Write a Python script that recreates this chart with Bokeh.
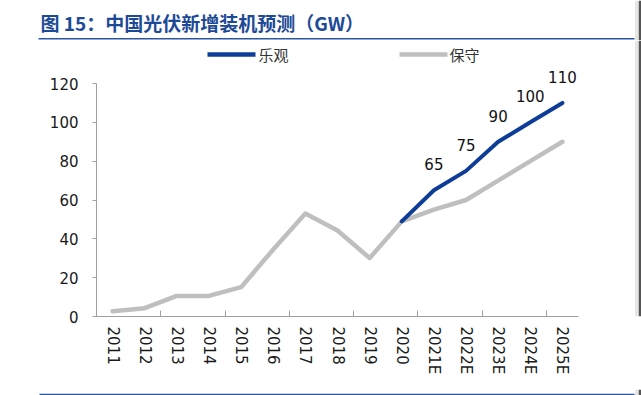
import math
from bokeh.plotting import figure
from bokeh.layouts import column
from bokeh.models import Range1d, FixedTicker, LabelSet, Label, Span, ColumnDataSource
from bokeh.core.properties import value
from bokeh.embed import file_html
from bokeh.resources import INLINE

# ---- data ----
years = ["2011", "2012", "2013", "2014", "2015", "2016", "2017", "2018", "2019", "2020",
         "2021E", "2022E", "2023E", "2024E", "2025E"]
conservative = [2.7, 4.3, 10.6, 10.6, 15.1, 34.5, 53.0, 44.3, 30.1, 49.0,
                55.0, 60.0, 70.0, 80.0, 90.0]
optimistic_years = ["2020", "2021E", "2022E", "2023E", "2024E", "2025E"]
optimistic = [49.0, 65.0, 75.0, 90.0, 100.0, 110.0]
label_years = ["2021E", "2022E", "2023E", "2024E", "2025E"]
label_values = [65, 75, 90, 100, 110]
y_ticks = [0, 20, 40, 60, 80, 100, 120]
title_text = "图 15：中国光伏新增装机预测（GW）"
legend_names = ["乐观", "保守"]

BLUE = "#0D3D96"
GRAY = "#BFBFBF"
TITLE_BLUE = "#1D4A96"
RULE = "#2A56A3"
AXIS = "#A0A0A0"
NUM_FONT = "DejaVu Sans"
CJK = "Noto Sans CJK SC"

W = 641
HEAD_H, MAIN_H, FOOT_H = 40, 346, 9
FRAME_L = 96          # frame left edge (px)
FRAME_W = 482         # px spanned by the 15 categories
AXIS_Y = 276          # x-axis position inside main figure (px from top)
PX_PER_20 = 38.833    # px per 20 GW

pos = {y: i + 0.5 for i, y in enumerate(years)}
px_x = FRAME_W / len(years)
px_y = PX_PER_20 / 20
x_end = (W - FRAME_L) / px_x
y_end = AXIS_Y / px_y


def edge_band(fig, to_data=lambda v: v):
    fig.add_layout(Span(location=to_data(636.5), dimension="height",
                        line_color="#E6E6E6", line_width=4))
    fig.add_layout(Span(location=to_data(639.8), dimension="height",
                        line_color="#555555", line_width=3))


def blank(h):
    f = figure(width=W, height=h, x_range=Range1d(0, W), y_range=Range1d(h, 0),
               output_backend="svg", toolbar_location=None,
               x_axis_location=None, y_axis_location=None,
               min_border=0, min_border_left=0, min_border_right=0,
               min_border_top=0, min_border_bottom=0)
    f.grid.visible = False
    f.outline_line_color = None
    f.frame_align = False
    return f


# ---- header: title and rule ----
head = blank(HEAD_H)
head.add_layout(Label(x=40, y=22, text=title_text, text_font=CJK,
                      text_font_style="bold", text_font_size="19px", text_color=TITLE_BLUE,
                      text_baseline="middle", text_align="left"))
head.segment(x0=[38], y0=[38.3], x1=[634], y1=[38.3], line_color=RULE, line_width=1.5)
edge_band(head)

# ---- main chart ----
p = figure(width=W, height=MAIN_H, x_range=Range1d(0, x_end), y_range=Range1d(0, y_end),
           output_backend="svg", toolbar_location=None,
           min_border_left=FRAME_L, min_border_right=0, min_border_top=0,
           min_border_bottom=MAIN_H - AXIS_Y)
p.grid.visible = False
p.outline_line_color = None
p.frame_align = False

p.xaxis.bounds = (0, len(years))
p.xaxis.ticker = FixedTicker(ticks=[pos[y] for y in years],
                             minor_ticks=list(range(2, len(years), 2)))
p.xaxis.major_label_overrides = {pos[y]: y for y in years}
p.xaxis.major_label_orientation = -math.pi / 2
p.xaxis.major_tick_out = 0
p.xaxis.major_tick_in = 0
p.xaxis.minor_tick_in = 6
p.xaxis.minor_tick_out = 0
p.xaxis.minor_tick_line_color = AXIS
p.xaxis.axis_line_color = AXIS
p.xaxis.major_label_standoff = 10
p.xaxis.major_label_text_font = NUM_FONT
p.xaxis.major_label_text_font_size = "15px"
p.xaxis.major_label_text_color = "#1A1A1A"

p.yaxis.bounds = (0, 120)
p.yaxis.ticker = FixedTicker(ticks=y_ticks)
p.yaxis.minor_tick_line_color = None
p.yaxis.major_tick_out = 4
p.yaxis.major_tick_in = 0
p.yaxis.major_tick_line_color = AXIS
p.yaxis.axis_line_color = AXIS
p.yaxis.major_label_standoff = 14
p.yaxis.major_label_text_font = NUM_FONT
p.yaxis.major_label_text_font_size = "15px"
p.yaxis.major_label_text_color = "#1A1A1A"

p.line([pos[y] for y in years], conservative, line_color=GRAY, line_width=4.5,
       line_join="round", line_cap="round")
p.line([pos[y] for y in optimistic_years], optimistic, line_color=BLUE, line_width=4,
       line_join="round", line_cap="round")

src = ColumnDataSource(dict(x=[pos[y] for y in label_years], y=label_values,
                            t=[str(v) for v in label_values]))
p.add_layout(LabelSet(x="x", y="y", text="t", source=src, text_align="center",
                      text_baseline="bottom", y_offset=20, text_font=value(NUM_FONT),
                      text_font_size="15px", text_color="#111111"))

# legend (drawn in the top part of the frame)
to_dx = lambda px: (px - FRAME_L) / px_x
leg_y = (AXIS_Y - 14) / px_y
p.segment(x0=[to_dx(207), to_dx(399)], y0=[leg_y, leg_y],
          x1=[to_dx(255), to_dx(447)], y1=[leg_y, leg_y],
          line_color=[BLUE, GRAY], line_width=4.5)
p.add_layout(Label(x=to_dx(258), y=leg_y, text=legend_names[0], text_font=CJK,
                   text_font_size="15px", text_color="#333333", text_baseline="middle"))
p.add_layout(Label(x=to_dx(449), y=leg_y, text=legend_names[1], text_font=CJK,
                   text_font_size="15px", text_color="#333333", text_baseline="middle"))
edge_band(p, to_dx)

# ---- footer: bottom rule ----
foot = blank(FOOT_H)
foot.segment(x0=[39], y0=[5], x1=[634], y1=[5], line_color=RULE, line_width=1.5)
edge_band(foot)

layout = column(head, p, foot, spacing=0)
open("out.html", "w").write(file_html(layout, INLINE))
